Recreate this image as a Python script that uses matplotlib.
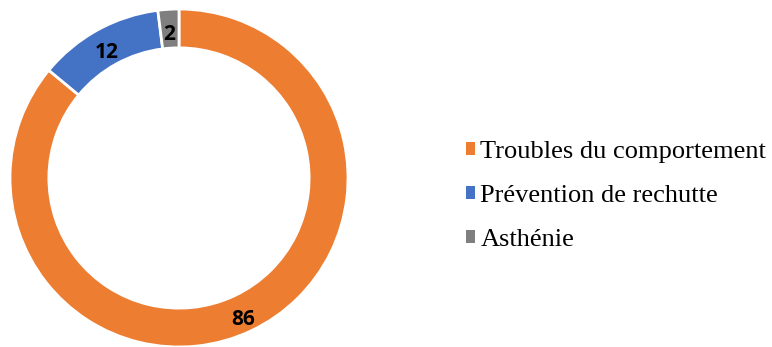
import matplotlib.pyplot as plt
from matplotlib.patches import Patch

labels = ["Troubles du comportement", "Prévention de rechutte", "Asthénie"]
values = [86, 12, 2]
colors = ["#ED7D31", "#4472C4", "#7F7F7F"]

fig = plt.figure(figsize=(7.72, 3.47), dpi=100)

# donut on the left, centred around (179, 178) px
ax = fig.add_axes([10 / 772, 0.0, 338 / 772, 338 / 347])

wedges, texts = ax.pie(
    values,
    colors=colors,
    startangle=90,
    counterclock=False,
    radius=1.0,
    wedgeprops=dict(width=0.23, edgecolor="white", linewidth=2),
    labels=[str(v) for v in values],
    labeldistance=0.885,
)
for t in texts:
    x, y = t.get_position()
    t.set_position((x, y - 0.02))
    t.set_ha("center")
    t.set_va("center_baseline")
    t.set_fontsize(15)
    t.set_fontweight("bold")
    t.set_family("Open Sans")
ax.set_xlim(-1, 1)
ax.set_ylim(-1, 1)
ax.set_aspect("equal")
ax.axis("off")

handles = [Patch(facecolor=c, edgecolor="none") for c in colors]
fig.legend(
    handles, labels,
    loc="center left",
    bbox_to_anchor=(442 / 772, 1 - 196 / 347),
    frameon=False,
    prop={"family": "Liberation Serif", "size": 19},
    handlelength=0.35,
    handleheight=0.35,
    handletextpad=0.2,
    labelspacing=0.83,
)

fig.savefig("out.png", dpi=100)
